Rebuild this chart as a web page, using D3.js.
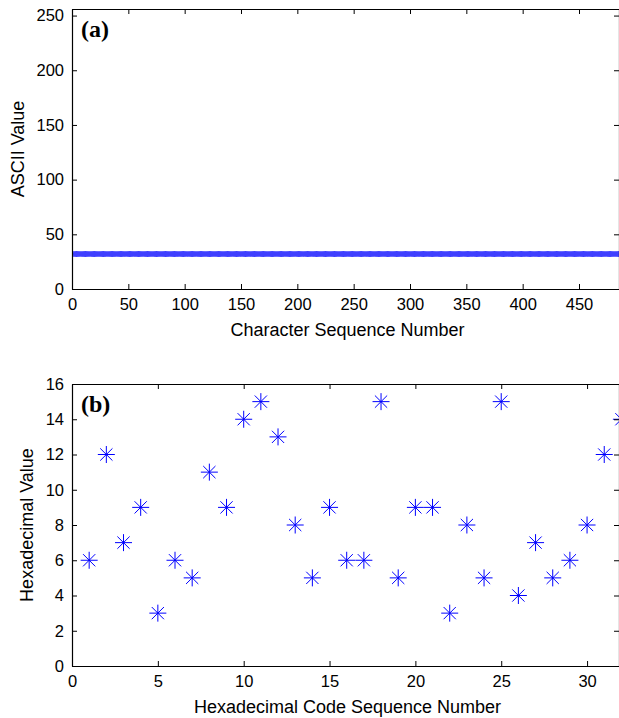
<!DOCTYPE html>
<html>
<head>
<meta charset="utf-8">
<script src="https://cdn.jsdelivr.net/npm/d3@7"></script>
<style>
  body { margin: 0; background: #fff; }
  svg { display: block; }
  text { font-family: "Liberation Sans", Arial, sans-serif; fill: #000; }
</style>
</head>
<body>
<script>
const width = 619
const height = 718

// (a) ASCII value of every character, all spaces (32)
const asciiValues = [
  32,32,32,32,32,32,32,32,32,32,32,32,32,32,32,32,32,32,32,32,32,32,32,32,32,
  32,32,32,32,32,32,32,32,32,32,32,32,32,32,32,32,32,32,32,32,32,32,32,32,32,
  32,32,32,32,32,32,32,32,32,32,32,32,32,32,32,32,32,32,32,32,32,32,32,32,32,
  32,32,32,32,32,32,32,32,32,32,32,32,32,32,32,32,32,32,32,32,32,32,32,32,32,
  32,32,32,32,32,32,32,32,32,32,32,32,32,32,32,32,32,32,32,32,32,32,32,32,32,
  32,32,32,32,32,32,32,32,32,32,32,32,32,32,32,32,32,32,32,32,32,32,32,32,32,
  32,32,32,32,32,32,32,32,32,32,32,32,32,32,32,32,32,32,32,32,32,32,32,32,32,
  32,32,32,32,32,32,32,32,32,32,32,32,32,32,32,32,32,32,32,32,32,32,32,32,32,
  32,32,32,32,32,32,32,32,32,32,32,32,32,32,32,32,32,32,32,32,32,32,32,32,32,
  32,32,32,32,32,32,32,32,32,32,32,32,32,32,32,32,32,32,32,32,32,32,32,32,32,
  32,32,32,32,32,32,32,32,32,32,32,32,32,32,32,32,32,32,32,32,32,32,32,32,32,
  32,32,32,32,32,32,32,32,32,32,32,32,32,32,32,32,32,32,32,32,32,32,32,32,32,
  32,32,32,32,32,32,32,32,32,32,32,32,32,32,32,32,32,32,32,32,32,32,32,32,32,
  32,32,32,32,32,32,32,32,32,32,32,32,32,32,32,32,32,32,32,32,32,32,32,32,32,
  32,32,32,32,32,32,32,32,32,32,32,32,32,32,32,32,32,32,32,32,32,32,32,32,32,
  32,32,32,32,32,32,32,32,32,32,32,32,32,32,32,32,32,32,32,32,32,32,32,32,32,
  32,32,32,32,32,32,32,32,32,32,32,32,32,32,32,32,32,32,32,32,32,32,32,32,32,
  32,32,32,32,32,32,32,32,32,32,32,32,32,32,32,32,32,32,32,32,32,32,32,32,32,
  32,32,32,32,32,32,32,32,32,32,32,32,32,32,32,32,32,32,32,32,32,32,32,32,32,
  32,32,32,32,32,32,32,32,32,32
]
const asciiXTicks = [0, 50, 100, 150, 200, 250, 300, 350, 400, 450]
const asciiYTicks = [0, 50, 100, 150, 200, 250]

// (b) hexadecimal digit sequence
const hexValues = [6, 12, 7, 9, 3, 6, 5, 11, 9, 14, 15, 13, 8, 5, 9, 6,
                   6, 15, 5, 9, 9, 3, 8, 5, 15, 4, 7, 5, 6, 8, 12, 14]
const hexXTicks = [0, 5, 10, 15, 20, 25, 30]
const hexYTicks = [0, 2, 4, 6, 8, 10, 12, 14, 16]

const svg = d3.select("body").append("svg")
    .attr("width", width)
    .attr("height", height)

// matlab style '*' marker
const asterisk = (r) => {
    const d = r * 0.72
    return `M${-r},0H${r}M0,${-r}V${r}M${-d},${-d}L${d},${d}M${-d},${d}L${d},${-d}`
}

function drawPanel(opts) {
    const { box, xDomain, yDomain, xTicks, yTicks, values, markerR, markerOpacity, xLabel, yLabel, yLabelX, tag, id } = opts
    const x = d3.scaleLinear().domain(xDomain).range([box.left, box.right])
    const y = d3.scaleLinear().domain(yDomain).range([box.bottom, box.top])

    svg.append("clipPath").attr("id", id)
        .append("rect")
        .attr("x", box.left).attr("y", box.top)
        .attr("width", box.right - box.left).attr("height", box.bottom - box.top)

    const g = svg.append("g")

    g.append("g").attr("clip-path", `url(#${id})`)
        .attr("opacity", markerOpacity)
        .selectAll("path")
        .data(values)
        .enter()
        .append("path")
        .attr("transform", (d, i) => `translate(${x(i + 1)},${y(d)})`)
        .attr("d", asterisk(markerR))
        .attr("fill", "none")
        .attr("stroke", "#0000ff")
        .attr("stroke-width", 1)

    const tickLen = 5
    const fmt = d3.format("d")

    const bottomAxis = g.append("g").attr("transform", `translate(0,${box.bottom})`)
        .call(d3.axisBottom(x).tickValues(xTicks).tickFormat(fmt).tickSizeInner(-tickLen).tickSizeOuter(0).tickPadding(9))
    const leftAxis = g.append("g").attr("transform", `translate(${box.left},0)`)
        .call(d3.axisLeft(y).tickValues(yTicks).tickFormat(fmt).tickSizeInner(-tickLen).tickSizeOuter(0).tickPadding(8))
    const topAxis = g.append("g").attr("transform", `translate(0,${box.top})`)
        .call(d3.axisTop(x).tickValues(xTicks).tickFormat("").tickSizeInner(-tickLen).tickSizeOuter(0))
    const rightAxis = g.append("g").attr("transform", `translate(${box.right},0)`)
        .call(d3.axisRight(y).tickValues(yTicks).tickFormat("").tickSizeInner(-tickLen).tickSizeOuter(0))

    ;[bottomAxis, leftAxis, topAxis, rightAxis].forEach(a => {
        a.select(".domain").attr("stroke", "#000").attr("stroke-width", 1.2)
        a.selectAll(".tick line").attr("stroke", "#000")
        a.selectAll("text").style("font-family", "'Liberation Sans', Arial, sans-serif")
            .style("font-size", "16.5px").attr("fill", "#000")
    })

    g.append("text")
        .attr("x", (box.left + box.right) / 2 + 2)
        .attr("y", box.bottom + 47)
        .attr("text-anchor", "middle")
        .style("font-size", "18px")
        .text(xLabel)

    g.append("text")
        .attr("transform", `translate(${yLabelX},${(box.top + box.bottom) / 2}) rotate(-90)`)
        .attr("text-anchor", "middle")
        .style("font-size", "18px")
        .text(yLabel)

    g.append("text")
        .attr("x", box.left + 9)
        .attr("y", box.top + 28)
        .style("font-family", "'Liberation Serif', 'Times New Roman', serif")
        .style("font-weight", "bold")
        .style("font-size", "24px")
        .text(tag)
}

drawPanel({
    id: "clipA",
    box: { left: 72, right: 619, top: 9, bottom: 289 },
    xDomain: [0, 485.5], yDomain: [0, 256],
    xTicks: asciiXTicks, yTicks: asciiYTicks,
    values: asciiValues, markerR: 3, markerOpacity: 0.75,
    xLabel: "Character Sequence Number", yLabel: "ASCII Value", yLabelX: 24,
    tag: "(a)"
})

drawPanel({
    id: "clipB",
    box: { left: 72, right: 619, top: 384, bottom: 666 },
    xDomain: [0, 31.86], yDomain: [0, 16],
    xTicks: hexXTicks, yTicks: hexYTicks,
    values: hexValues, markerR: 8.5, markerOpacity: 1,
    xLabel: "Hexadecimal Code Sequence Number", yLabel: "Hexadecimal Value", yLabelX: 33,
    tag: "(b)"
})
</script>
</body>
</html>
